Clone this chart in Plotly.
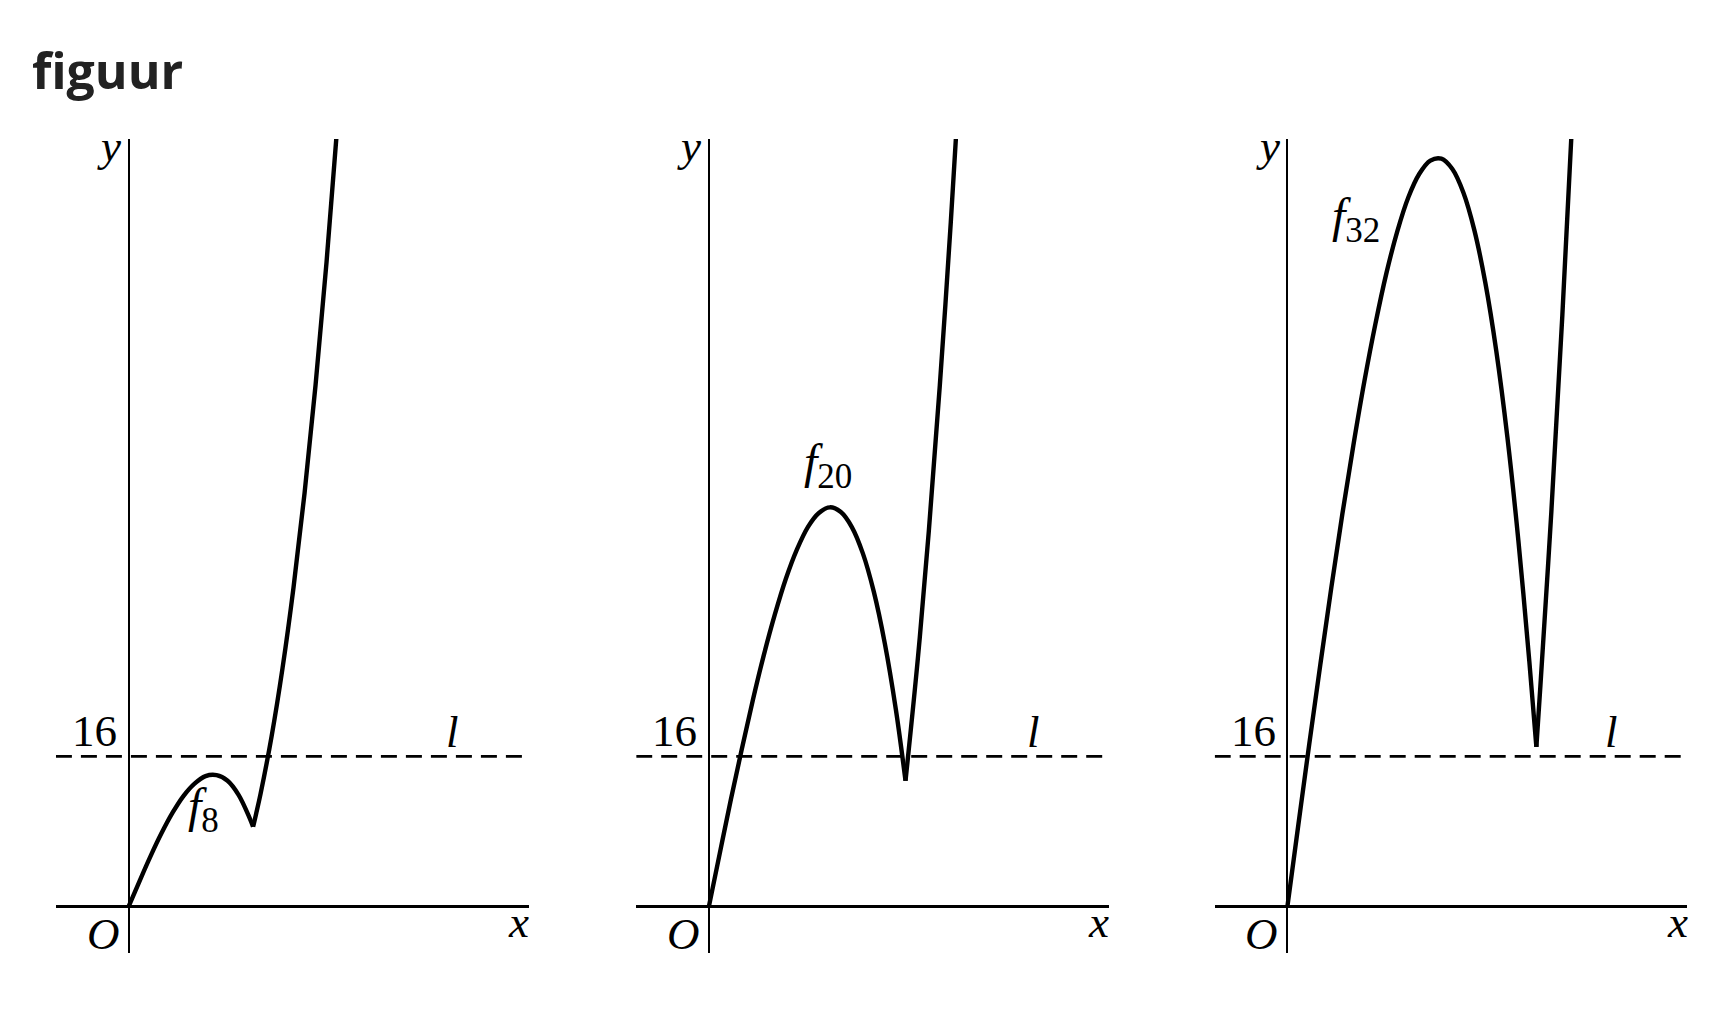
import plotly.graph_objects as go

# values, one panel per p
# f8
f8_left_x = [0, 0.25, 0.5, 0.75, 1.0, 1.25, 1.5, 1.75, 2.0, 2.25, 2.5, 2.75, 2.83]
f8_left_y = [0, 2.73, 5.38, 7.83, 10.0, 11.8, 13.1, 13.9, 14.0, 13.4, 11.9, 9.45, 8.5]
f8_right_x = [2.83, 2.9, 3.0, 3.25, 3.5, 3.75, 4.0, 4.25, 4.5, 4.75]
f8_right_y = [8.5, 9.9, 12.0, 18.1, 25.4, 34.0, 44.0, 55.5, 68.6, 83.4]

# f20
f20_left_x = [0, 0.25, 0.5, 0.75, 1.0, 1.25, 1.5, 1.75, 2.0, 2.25, 2.5, 2.75,
              3.0, 3.25, 3.5, 3.75, 4.0, 4.25, 4.47]
f20_left_y = [0, 5.73, 11.4, 16.8, 22.0, 26.8, 31.1, 34.9, 38.0, 40.4, 41.9, 42.5,
              42.0, 40.4, 37.6, 33.5, 28.0, 21.0, 13.4]
f20_right_x = [4.47, 4.75, 5.0, 5.25, 5.5, 5.7]
f20_right_y = [13.4, 26.4, 40.0, 55.5, 72.9, 88.3]

# f32
f32_left_x = [0, 0.25, 0.5, 0.75, 1.0, 1.25, 1.5, 1.75, 2.0, 2.25, 2.5, 2.75, 3.0,
              3.25, 3.5, 3.75, 4.0, 4.25, 4.5, 4.75, 5.0, 5.25, 5.5, 5.66]
f32_left_y = [0, 8.73, 17.4, 25.8, 34.0, 41.8, 49.1, 55.9, 62.0, 67.4, 71.9, 75.5, 78.0,
              79.4, 79.6, 78.5, 76.0, 72.0, 66.4, 59.1, 50.0, 39.0, 26.1, 17.0]
f32_right_x = [5.66, 5.75, 6.0, 6.25, 6.5]
f32_right_y = [17.0, 23.4, 42.0, 62.9, 86.1]

line_l = 16
panel_names = ["8", "20", "32"]
f_label_pos = [(1.71, 10.3), (2.71, 47.0), (1.56, 73.1)]

x_range = [-1.652, 9.093]
y_range = [-4.93, 81.7]

# page body adds an 8px margin, so the figure is 8px smaller and positions move by 8
PAD = 8
W, H = 1719 - PAD, 1021 - PAD
origins = [128.6, 708.9, 1287.4]
y_dom = [1 - (953 - PAD) / H, 1 - (139 - PAD) / H]

curves = [
    (f8_left_x, f8_left_y, f8_right_x, f8_right_y),
    (f20_left_x, f20_left_y, f20_right_x, f20_right_y),
    (f32_left_x, f32_left_y, f32_right_x, f32_right_y),
]

serif = "Liberation Serif"
fig = go.Figure()
annotations = []

for i, (lx, ly, rx, ry) in enumerate(curves):
    n = "" if i == 0 else str(i + 1)
    xa, ya = "x" + n, "y" + n

    # dashed line l
    fig.add_trace(go.Scatter(x=x_range, y=[line_l, line_l], mode="lines",
                             line=dict(color="black", width=2.6, dash="16px,9px"),
                             xaxis=xa, yaxis=ya, hoverinfo="skip"))
    for cx, cy in [(lx, ly), (rx, ry)]:
        fig.add_trace(go.Scatter(x=cx, y=cy, mode="lines",
                                 line=dict(color="black", width=4.4, shape="spline"),
                                 xaxis=xa, yaxis=ya, hoverinfo="skip"))

    o = origins[i] - PAD
    dom = [(o - 72.7) / W, (o + 400) / W]
    axis_x = dict(domain=dom, range=x_range, showgrid=False, showticklabels=False,
                  ticks="", zeroline=True, zerolinecolor="black", zerolinewidth=2.2,
                  anchor=ya, fixedrange=True)
    axis_y = dict(domain=y_dom, range=y_range, showgrid=False, showticklabels=False,
                  ticks="", zeroline=True, zerolinecolor="black", zerolinewidth=2.8,
                  anchor=xa, fixedrange=True)
    fig.update_layout(**{"xaxis" + n: axis_x, "yaxis" + n: axis_y})

    font = dict(family=serif, size=45, color="black")
    sub = ("<sub><span style='font-size:35px;font-family:Liberation Serif'>"
           + panel_names[i] + "</span></sub>")
    panel_ann = [
        dict(x=-0.22, y=18.7, text="16", xanchor="right", yanchor="middle"),
        dict(x=7.37, y=18.6, text="<i>l</i>", xanchor="center", yanchor="middle"),
        dict(x=-0.58, y=-2.9, text="<i>O</i>", xanchor="center", yanchor="middle"),
        dict(x=8.86, y=-1.68, text="<i>x</i>", xanchor="center", yanchor="middle"),
        dict(x=-0.45, y=81.0, text="<i>y</i>", xanchor="center", yanchor="middle"),
        dict(x=f_label_pos[i][0], y=f_label_pos[i][1], text="<i>f</i>" + sub,
             xanchor="center", yanchor="middle",
             font=dict(family=serif, size=48, color="black")),
    ]
    for a in panel_ann:
        a.setdefault("font", font)
        a.update(xref=xa, yref=ya, showarrow=False)
    annotations += panel_ann

annotations.append(dict(x=(30 - PAD) / W, y=1 - (70 - PAD) / H, xref="paper", yref="paper",
                        text="<b>figuur</b>", showarrow=False, xanchor="left",
                        yanchor="middle",
                        font=dict(family="Open Sans", size=50, color="#222222")))

fig.update_layout(width=W, height=H, margin=dict(l=0, r=0, t=0, b=0),
                  paper_bgcolor="white", plot_bgcolor="white",
                  showlegend=False, annotations=annotations)

fig.write_html("out.html")
